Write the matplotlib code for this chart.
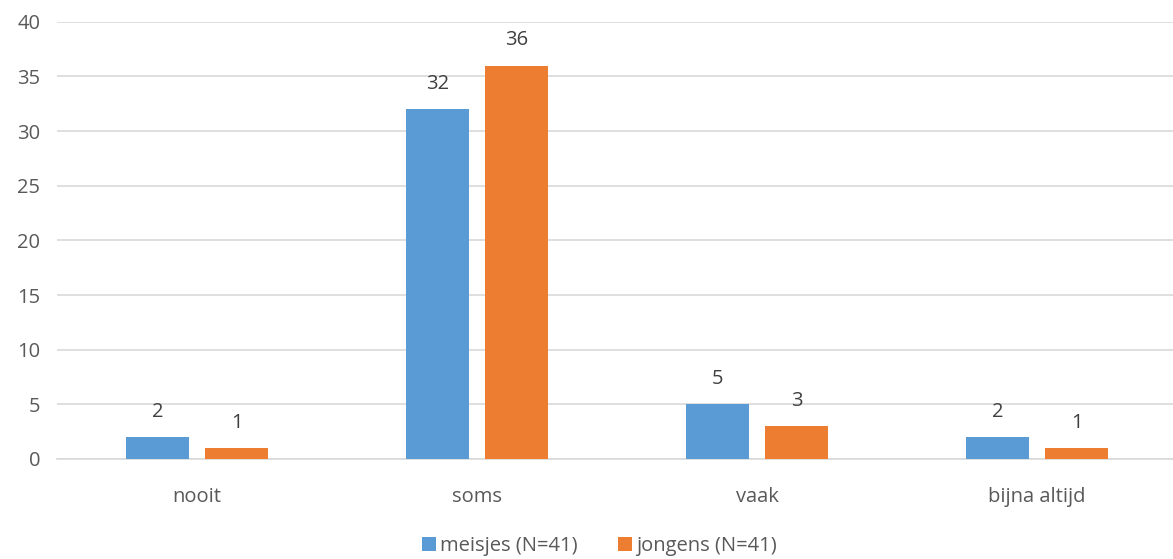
import matplotlib.pyplot as plt
import numpy as np

plt.rcParams["font.family"] = ["Open Sans", "DejaVu Sans"]

categories = ["nooit", "soms", "vaak", "bijna altijd"]
meisjes = [2, 32, 5, 2]
jongens = [1, 36, 3, 1]
series_names = ["meisjes (N=41)", "jongens (N=41)"]

blue = "#5B9BD5"
orange = "#ED7D31"
text_col = "#595959"

fig = plt.figure(figsize=(11.73, 5.59), dpi=100)
ax = fig.add_axes([0.0486, 0.179, 0.955, 0.782])

x = np.arange(len(categories))
width = 0.225
offset = 0.142

b1 = ax.bar(x - offset, meisjes, width, color=blue, label=series_names[0], zorder=3)
b2 = ax.bar(x + offset, jongens, width, color=orange, label=series_names[1], zorder=3)

for bars, vals in [(b1, meisjes), (b2, jongens)]:
    for rect, v in zip(bars, vals):
        ax.text(rect.get_x() + rect.get_width() / 2, v + 1.4, str(v),
                ha="center", va="bottom", fontsize=14.5, color="#404040")

ax.set_xlim(-0.5, len(categories) - 0.5)
ax.set_ylim(0, 40)
ax.set_yticks(np.arange(0, 41, 5))
ax.yaxis.grid(True, color="#D9D9D9", linewidth=1.2, zorder=0)
ax.set_axisbelow(True)

for s in ["top", "right", "left"]:
    ax.spines[s].set_visible(False)
ax.spines["bottom"].set_color("#D9D9D9")
ax.spines["bottom"].set_linewidth(1.2)

ax.set_xticks(x)
ax.set_xticklabels(categories)
ax.tick_params(axis="both", length=0, labelsize=14.5, colors=text_col)
ax.tick_params(axis="x", pad=20)
ax.tick_params(axis="y", pad=12)

ax.legend(loc="center", bbox_to_anchor=(0.484, -0.2), ncol=2, frameon=False,
          fontsize=14.5, handlelength=0.7, handleheight=0.7, handletextpad=0.2,
          columnspacing=2.0, labelcolor=text_col)

fig.savefig("out.png", dpi=100)
